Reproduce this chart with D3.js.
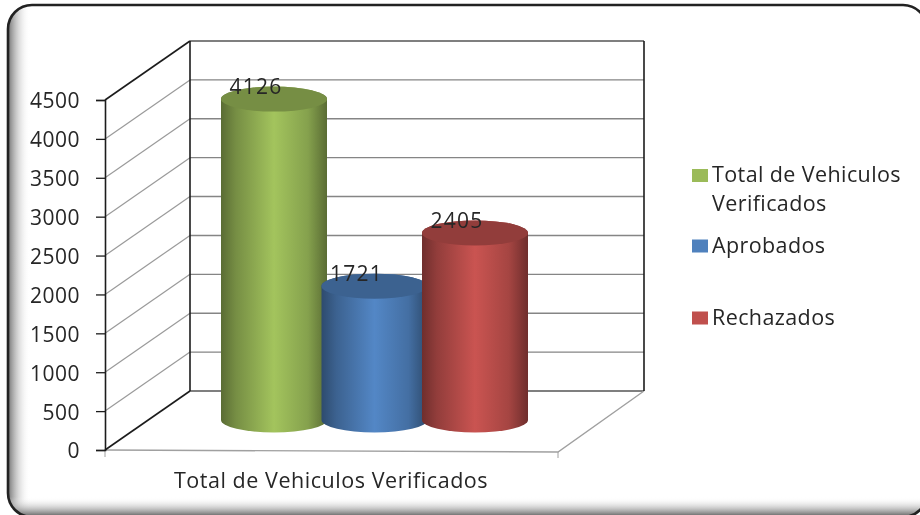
<!DOCTYPE html>
<html>
<head>
<meta charset="utf-8">
<script src="https://cdn.jsdelivr.net/npm/d3@7"></script>
<style>
  html, body { margin: 0; padding: 0; background: #fff; overflow: hidden; }
  svg { display: block; filter: blur(0.4px); }
  text { font-family: "Open Sans", Lato, sans-serif; fill: #262626; }
</style>
</head>
<body>
<svg id="chart" width="920" height="515"></svg>
<script>
const series = ["Total de Vehiculos Verificados", "Aprobados", "Rechazados"];
const values = [4126, 1721, 2405];
const yTicks = [0, 500, 1000, 1500, 2000, 2500, 3000, 3500, 4000, 4500];
const category = "Total de Vehiculos Verificados";
const legendLines = [["Total de Vehiculos", "Verificados"], ["Aprobados"], ["Rechazados"]];
const barColors = ["#9bbb59", "#4f81bd", "#c0504d"];

const svg = d3.select("#chart");
const defs = svg.append("defs");

// 3d box: front plane plus a depth offset to the back wall
const frontLeft = 105, frontRight = 558, depthX = 85, depthY = -59;
const y = d3.scaleLinear().domain([0, 4500]).range([450, 100]);
const yBack = v => y(v) + depthY;
const yBar = v => y(v) - 30;
const x = d3.scalePoint().domain(series).range([274, 475]);
const rx = 53, ry = 12.5;

// panel runs a little past the right and bottom of the picture
const panelBox = { x: 8, y: 5, width: 919, height: 512, rx: 24 };
function shade(id, x1, y1, x2, y2, from) {
  const g = defs.append("linearGradient").attr("id", id)
    .attr("x1", x1).attr("y1", y1).attr("x2", x2).attr("y2", y2);
  g.append("stop").attr("offset", "0%").attr("stop-color", from);
  g.append("stop").attr("offset", "100%").attr("stop-color", "#fff").attr("stop-opacity", 0);
}
shade("shadeLeft", 0, 0, 1, 0, "#737373");
shade("shadeBottom", 0, 1, 0, 0, "#555");
const clip = defs.append("clipPath").attr("id", "panelClip").append("rect");
Object.entries(panelBox).forEach(([k, v]) => clip.attr(k, v));

const panel = svg.append("g").attr("clip-path", "url(#panelClip)");
panel.append("rect").attr("x", 8).attr("y", 5).attr("width", 912).attr("height", 512).attr("fill", "#fff");
panel.append("rect").attr("x", 8).attr("y", 5).attr("width", 22).attr("height", 512).attr("fill", "url(#shadeLeft)");
panel.append("rect").attr("x", 8).attr("y", 497).attr("width", 912).attr("height", 20).attr("fill", "url(#shadeBottom)");
const border = svg.append("rect").attr("fill", "none").attr("stroke", "#222").attr("stroke-width", 2.6);
Object.entries(panelBox).forEach(([k, v]) => border.attr(k, v));

// gridlines, side wall and back wall
const grid = svg.append("g");
grid.selectAll("line.side").data(yTicks.slice(1, -1)).enter().append("line")
  .attr("class", "side")
  .attr("x1", frontLeft).attr("y1", d => y(d))
  .attr("x2", frontLeft + depthX).attr("y2", d => yBack(d))
  .attr("stroke", "#9a9a9a").attr("stroke-width", 1.2);
grid.selectAll("line.back").data(yTicks).enter().append("line")
  .attr("class", "back")
  .attr("x1", frontLeft + depthX).attr("y1", d => yBack(d))
  .attr("x2", frontRight + depthX + 1).attr("y2", d => yBack(d))
  .attr("stroke", d => d === 0 || d === 4500 ? "#555" : "#858585")
  .attr("stroke-width", 1.4);

// floor
const floor = d3.line();
grid.append("path")
  .attr("d", floor([[frontLeft, y(0)], [frontRight, y(0) + 2], [frontRight + depthX + 1, yBack(0)]]))
  .attr("fill", "none").attr("stroke", "#a0a0a0").attr("stroke-width", 1.4);
grid.append("line").attr("x1", frontRight).attr("x2", frontRight)
  .attr("y1", y(0) + 2).attr("y2", y(0) + 8).attr("stroke", "#a0a0a0");
grid.append("line").attr("x1", frontLeft).attr("x2", frontLeft)
  .attr("y1", y(0)).attr("y2", y(0) + 7).attr("stroke", "#a0a0a0");

// black wall edges
const edges = [
  [[frontLeft, y(4500)], [frontLeft + depthX, yBack(4500)]],
  [[frontLeft, y(0)], [frontLeft + depthX, yBack(0)]],
  [[frontLeft + depthX, yBack(0)], [frontLeft + depthX, yBack(4500)]],
  [[frontRight + depthX + 1, yBack(0)], [frontRight + depthX + 1, yBack(4500)]]
];
grid.selectAll("path.edge").data(edges).enter().append("path")
  .attr("class", "edge").attr("d", d => floor(d))
  .attr("fill", "none").attr("stroke", "#1c1c1c").attr("stroke-width", 1.6);

// value axis
const axis = d3.axisLeft(y).tickValues(yTicks).tickSize(9).tickPadding(16).tickFormat(d3.format("d"));
const axisG = svg.append("g").attr("transform", `translate(${frontLeft},0)`).call(axis);
axisG.select(".domain").attr("stroke", "#1c1c1c").attr("stroke-width", 1.6);
axisG.selectAll(".tick line").attr("stroke", "#1c1c1c").attr("stroke-width", 1.3);
axisG.selectAll("text")
  .attr("dy", "0.38em")
  .attr("font-size", 21)
  .style("font-family", '"Open Sans"')
  .style("letter-spacing", "0.5px")
  .attr("fill", "#262626");

// cylinders
series.forEach((s, i) => {
  const c = d3.color(barColors[i]);
  const g = defs.append("linearGradient").attr("id", "cyl" + i);
  [[0, 0.58], [0.14, 0.76], [0.5, 1.05], [0.82, 0.86], [1, 0.58]].forEach(([o, k]) => {
    const col = d3.rgb(c.r * k, c.g * k, c.b * k);
    g.append("stop").attr("offset", o * 100 + "%").attr("stop-color", col.formatHex());
  });
});

const bars = svg.append("g").selectAll("g").data(series).enter().append("g");
bars.append("path")
  .attr("fill", (d, i) => `url(#cyl${i})`)
  .attr("d", (d, i) => {
    const cx = x(d), top = yBar(values[i]), bot = yBar(0);
    return `M${cx - rx},${top}L${cx - rx},${bot}A${rx},${ry} 0 0 0 ${cx + rx},${bot}L${cx + rx},${top}A${rx},${ry} 0 0 0 ${cx - rx},${top}Z`;
  });
bars.append("ellipse")
  .attr("cx", d => x(d)).attr("cy", (d, i) => yBar(values[i]))
  .attr("rx", rx).attr("ry", ry)
  .attr("fill", (d, i) => {
    const c = d3.color(barColors[i]);
    return d3.rgb(c.r * 0.76, c.g * 0.76, c.b * 0.76).formatHex();
  });

// data labels
svg.append("g").selectAll("text").data(series).enter().append("text")
  .attr("x", d => x(d) - 18)
  .attr("y", (d, i) => yBar(values[i]) - 5)
  .attr("text-anchor", "middle")
  .attr("font-size", 21)
  .style("letter-spacing", "1.2px")
  .text((d, i) => values[i]);

// category label
svg.append("text").attr("x", 331).attr("y", 488).attr("text-anchor", "middle")
  .attr("font-size", 21.5).style("letter-spacing", "0.55px").text(category);

// legend
const legendY = [175.5, 246, 318];
const legend = svg.append("g").selectAll("g").data(series).enter().append("g")
  .attr("transform", (d, i) => `translate(692,${legendY[i]})`);
legend.append("rect").attr("y", -6.5).attr("width", 16).attr("height", 13)
  .attr("fill", (d, i) => barColors[i]);
legend.each(function (d, i) {
  d3.select(this).selectAll("text").data(legendLines[i]).enter().append("text")
    .attr("x", 20).attr("y", (t, j) => 6.5 + j * 29)
    .attr("font-size", 21.5).style("letter-spacing", "0.4px").text(t => t);
});
</script>
</body>
</html>
